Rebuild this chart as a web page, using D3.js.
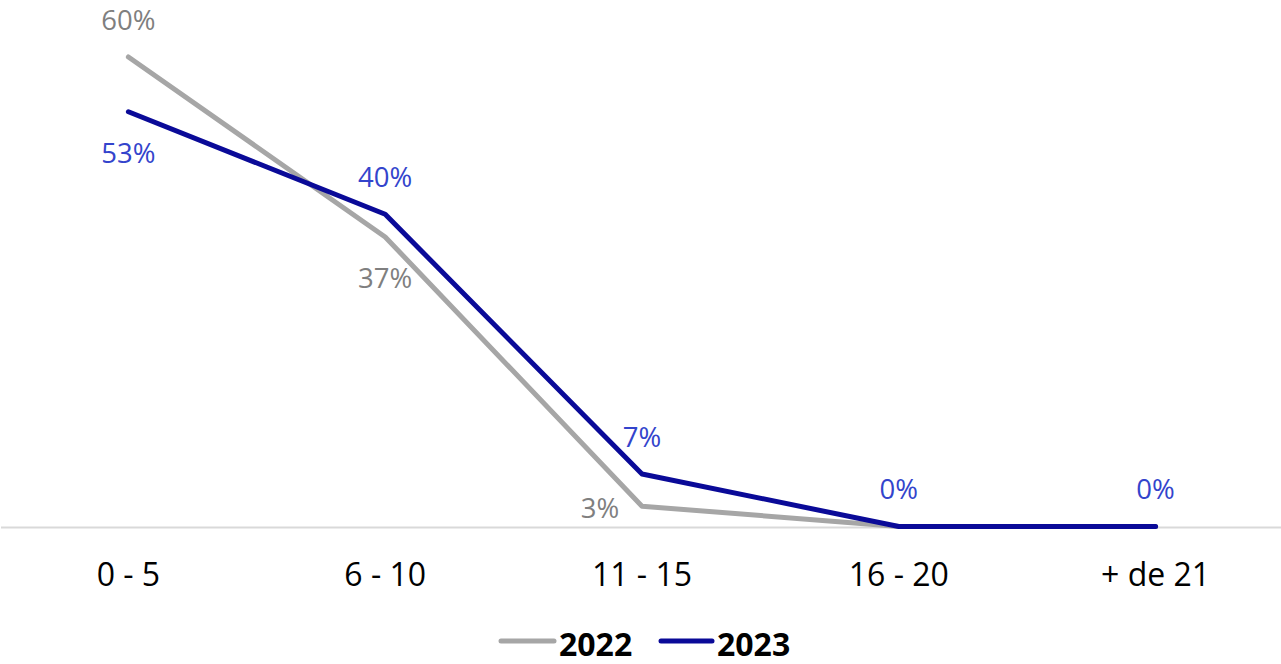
<!DOCTYPE html>
<html>
<head>
<meta charset="utf-8">
<script src="https://cdn.jsdelivr.net/npm/d3@7"></script>
<style>
  html, body { margin: 0; padding: 0; background: #fff; }
  svg { display: block; }
</style>
</head>
<body>
<svg id="chart" width="1281" height="664"></svg>
<script>
const categories = ["0 - 5", "6 - 10", "11 - 15", "16 - 20", "+ de 21"];
const values2022 = [60, 37, 2.6, 0, 0];
const values2023 = [53, 39.9, 6.7, 0, 0];
const seriesNames = ["2022", "2023"];

// label placement (style config)
const place2022 = ["above", "below", "left", null, null];
const place2023 = ["below", "above", "above", "above", "above"];

const W = 1281, H = 664;
const svg = d3.select("#chart");

const x = d3.scaleBand().domain(categories).range([0, 1284]).padding(0);
const y = d3.scaleLinear().domain([0, 60]).range([526.5, 57]);
const cx = d => x(d) + x.bandwidth() / 2;

// axis line
svg.append("line")
  .attr("x1", 1).attr("x2", 1281)
  .attr("y1", 527.5).attr("y2", 527.5)
  .attr("stroke", "#D9D9D9").attr("stroke-width", 2);

// x axis labels
const xAxis = d3.axisBottom(x).tickSize(0).tickPadding(0);
const gx = svg.append("g").attr("transform", "translate(0,527)").call(xAxis);
gx.select(".domain").remove();
gx.selectAll("text")
  .attr("y", 59)
  .attr("dy", 0)
  .attr("font-family", "Open Sans")
  .attr("font-size", 32)
  .attr("fill", "#000");

const series = [
  { name: seriesNames[0], values: values2022, color: "#A6A6A6", labelColor: "#7F7F7F", place: place2022 },
  { name: seriesNames[1], values: values2023, color: "#0A0A98", labelColor: "#3344CC", place: place2023 }
];

const line = d3.line().x((d, i) => cx(categories[i])).y(d => y(d));

series.forEach(s => {
  svg.append("path")
    .datum(s.values)
    .attr("d", line)
    .attr("fill", "none")
    .attr("stroke", s.color)
    .attr("stroke-width", 5)
    .attr("stroke-linejoin", "round")
    .attr("stroke-linecap", "round");
});

series.forEach(s => {
  s.values.forEach((v, i) => {
    const p = s.place[i];
    if (!p) return;
    let lx = cx(categories[i]), ly = y(v);
    if (p === "above") ly -= 37;
    else if (p === "below") ly += 41;
    else if (p === "left") { lx -= 42; ly += 2; }
    svg.append("text")
      .attr("x", lx).attr("y", ly)
      .attr("dy", "0.36em")
      .attr("text-anchor", "middle")
      .attr("font-family", "Open Sans")
      .attr("font-size", 27.5)
      .attr("fill", s.labelColor)
      .text(Math.round(v) + "%");
  });
});

// legend
const legend = [
  { name: seriesNames[0], color: "#A6A6A6", x1: 501, x2: 554, tx: 559 },
  { name: seriesNames[1], color: "#0A0A98", x1: 661, x2: 712, tx: 717 }
];
legend.forEach(l => {
  svg.append("line")
    .attr("x1", l.x1).attr("x2", l.x2)
    .attr("y1", 641).attr("y2", 641)
    .attr("stroke", l.color).attr("stroke-width", 5)
    .attr("stroke-linecap", "round");
  svg.append("text")
    .attr("x", l.tx).attr("y", 656)
    .attr("font-family", "Open Sans")
    .attr("font-weight", "bold")
    .attr("font-size", 32)
    .attr("fill", "#000")
    .text(l.name);
});
</script>
</body>
</html>
